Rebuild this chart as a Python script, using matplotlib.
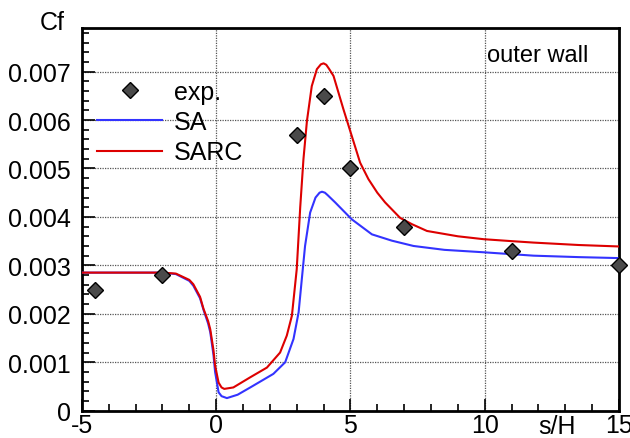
import matplotlib
matplotlib.use("Agg")
import matplotlib.pyplot as plt
from matplotlib.ticker import MultipleLocator

plt.rcParams['font.family'] = ['Liberation Sans', 'DejaVu Sans']

exp_x = [-4.5, -2, 3, 4, 5, 7, 11, 15]
exp_y = [0.0025, 0.0028, 0.0057, 0.0065, 0.0050, 0.0038, 0.0033, 0.0030]

sarc_x = [-5, -3, -2, -1.5, -1.0, -0.85, -0.6, -0.47, -0.3, -0.22, -0.1, -0.04, 0.09, 0.2, 0.3,
          0.64, 1.27, 1.89, 2.38, 2.63, 2.82, 3.0, 3.13, 3.25, 3.38, 3.56, 3.75, 3.9, 4.0, 4.1, 4.2, 4.37,
          4.74, 5.05, 5.36, 5.67, 6.0, 6.29, 6.85, 7.29, 7.85, 9.0, 9.96, 11.0, 11.82, 13.5, 15]
sarc_y = [2.85, 2.85, 2.85, 2.83, 2.70, 2.61, 2.35, 2.10, 1.85, 1.68, 1.25, 0.93, 0.58, 0.48, 0.45,
          0.48, 0.69, 0.89, 1.20, 1.55, 1.96, 2.92, 4.20, 5.19, 5.98, 6.70, 7.05, 7.15, 7.17, 7.14, 7.06, 6.91,
          6.22, 5.67, 5.12, 4.78, 4.50, 4.30, 3.98, 3.85, 3.71, 3.60, 3.54, 3.50, 3.47, 3.42, 3.39]

sa_x = [-5, -3, -2, -1.5, -1.0, -0.85, -0.6, -0.47, -0.3, -0.22, -0.1, -0.04, 0.09, 0.2, 0.4,
        0.8, 1.27, 1.7, 2.13, 2.57, 2.88, 3.07, 3.19, 3.31, 3.5, 3.7, 3.85, 3.94, 4.05, 4.15, 4.43, 5.05,
        5.8, 6.54, 7.35, 8.5, 9.96, 11.82, 13.5, 15]
sa_y = [2.85, 2.85, 2.85, 2.82, 2.68, 2.58, 2.32, 2.08, 1.80, 1.62, 1.15, 0.80, 0.38, 0.30, 0.26,
        0.33, 0.48, 0.62, 0.76, 1.00, 1.48, 2.03, 2.72, 3.40, 4.09, 4.40, 4.50, 4.52, 4.50, 4.45, 4.30, 3.95,
        3.64, 3.51, 3.40, 3.32, 3.27, 3.20, 3.17, 3.15]

fig = plt.figure(figsize=(6.3, 4.39), dpi=100)
ax = fig.add_axes([0.130, 0.0622, 0.8525, 0.8718])

ax.plot(exp_x, exp_y, linestyle='none', marker='D', markersize=8.5, markerfacecolor='#4a4a4a',
        markeredgecolor='black', markeredgewidth=1.0, label='exp.', zorder=5, clip_on=False)
ax.plot(sa_x, [v * 1e-3 for v in sa_y], color='#3333ff', lw=1.5, label='SA', zorder=3)
ax.plot(sarc_x, [v * 1e-3 for v in sarc_y], color='#dd0000', lw=1.5, label='SARC', zorder=4)

ax.set_xlim(-5, 15)
ax.set_ylim(0, 0.0079)
ax.xaxis.set_major_locator(MultipleLocator(5))
ax.xaxis.set_minor_locator(MultipleLocator(1))
ax.yaxis.set_major_locator(MultipleLocator(0.001))
ax.yaxis.set_minor_locator(MultipleLocator(0.0002))
ax.set_yticks([0, 0.001, 0.002, 0.003, 0.004, 0.005, 0.006, 0.007])
ax.set_yticklabels(['0', '0.001', '0.002', '0.003', '0.004', '0.005', '0.006', '0.007'])
ax.set_xticks([-5, 0, 5, 10, 15])
ax.set_xticklabels(['-5', '0', '5', '10', '15'])

ax.tick_params(which='both', direction='in', top=False, right=False, labelsize=18, width=1.2)
ax.tick_params(which='major', length=9)
ax.tick_params(which='minor', length=5)
ax.tick_params(axis='y', pad=8)
ax.tick_params(axis='x', pad=2)

ax.grid(True, which='major', linestyle=(0, (1, 1)), color='#555555', lw=0.9)
for s in ax.spines.values():
    s.set_linewidth(2)

ax.text(10.1, 0.00735, 'outer wall', fontsize=17, va='center', ha='left')
fig.text(65 / 630, 1 - 23 / 439, 'Cf', fontsize=18, ha='right', va='center')
fig.text(557 / 630, 1 - 427 / 439, 's/H', fontsize=18, ha='center', va='center')

ax.legend(loc='upper left', bbox_to_anchor=(0.015, 0.884), frameon=False, fontsize=18,
          handlelength=2.6, handletextpad=0.45, labelspacing=0.25, borderpad=0.3,
          borderaxespad=0.0)

fig.savefig('out.png', dpi=100)
